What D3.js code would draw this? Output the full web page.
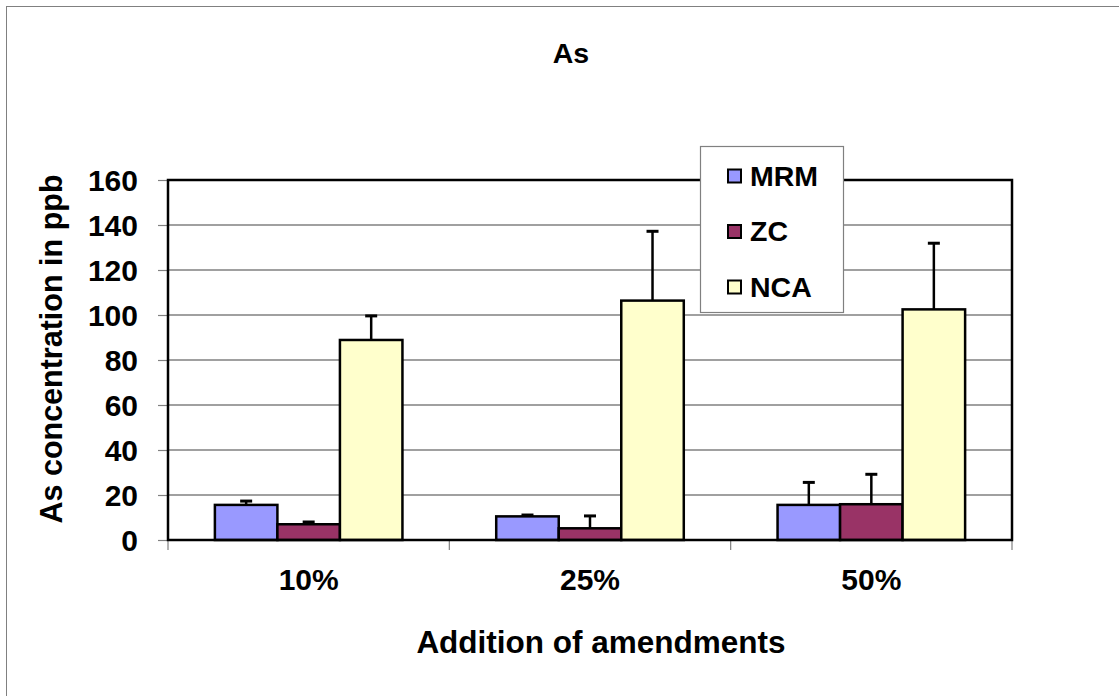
<!DOCTYPE html>
<html>
<head>
<meta charset="utf-8">
<script src="https://cdn.jsdelivr.net/npm/d3@7"></script>
<style>
  body { margin: 0; background: #fff; }
  svg { display: block; font-family: Arial, "Liberation Sans", sans-serif; font-weight: bold; }
</style>
</head>
<body>
<div id="chart"></div>
<script>
const categories = ['10%', '25%', '50%'];
const seriesNames = ['MRM', 'ZC', 'NCA'];
const mrm = [15.6, 10.5, 15.6];
const mrmErr = [1.7, 0.6, 10.0];
const zc = [7.0, 5.2, 15.9];
const zcErr = [1.0, 5.5, 13.3];
const nca = [88.9, 106.4, 102.5];
const ncaErr = [10.7, 30.8, 29.4];
const yTicks = [0, 20, 40, 60, 80, 100, 120, 140, 160];
const colors = ['#9999FF', '#993366', '#FFFFCC'];

const width = 1119, height = 696;
const plotLeft = 168, plotRight = 1012, plotTop = 180, plotBottom = 540;

const svg = d3.select('#chart').append('svg')
    .attr('width', width)
    .attr('height', height);

// outer chart frame
svg.append('rect')
    .attr('x', 6.5).attr('y', 6.5)
    .attr('width', 1300).attr('height', 900)
    .attr('fill', 'none').attr('stroke', '#808080');

const x0 = d3.scaleBand().domain(categories).range([plotLeft, plotRight]).padding(0);
const bw = x0.bandwidth();
const x1 = d3.scaleBand().domain(seriesNames).range([bw / 6, bw * 5 / 6]).padding(0);
const y = d3.scaleLinear().domain([0, 160]).range([plotBottom, plotTop]);

// gridlines
svg.append('g').selectAll('line')
    .data(yTicks.filter(d => d > 0 && d < 160))
    .enter().append('line')
    .attr('x1', plotLeft).attr('x2', plotRight)
    .attr('y1', d => y(d)).attr('y2', d => y(d))
    .attr('stroke', '#808080').attr('stroke-width', 1.5);

// y axis
const yAxis = svg.append('g')
    .attr('transform', `translate(${plotLeft},0)`)
    .call(d3.axisLeft(y).tickValues(yTicks).tickSize(10).tickPadding(20));
yAxis.select('.domain').remove();
yAxis.selectAll('.tick line').attr('stroke', '#808080').attr('stroke-width', 1.2);
yAxis.selectAll('.tick text')
    .attr('font-size', 30).attr('font-weight', 'bold')
    .attr('font-family', 'Arial, "Liberation Sans", sans-serif')
    .attr('fill', '#000').attr('dy', '0.36em');

// x axis ticks at category boundaries
const xBounds = categories.map(c => x0(c)).concat([plotRight]);
svg.append('g').selectAll('line')
    .data(xBounds)
    .enter().append('line')
    .attr('x1', d => d).attr('x2', d => d)
    .attr('y1', plotBottom).attr('y2', plotBottom + 10)
    .attr('stroke', '#808080').attr('stroke-width', 1.2);

svg.append('g').selectAll('text')
    .data(categories)
    .enter().append('text')
    .attr('x', d => x0(d) + bw / 2)
    .attr('y', 590)
    .attr('text-anchor', 'middle')
    .attr('font-size', 30)
    .text(d => d);

// bars
const values = [mrm, zc, nca];
const errors = [mrmErr, zcErr, ncaErr];
const barData = [];
categories.forEach((c, i) => {
    seriesNames.forEach((s, j) => {
        barData.push({ cat: c, series: s, value: values[j][i], err: errors[j][i], color: colors[j] });
    });
});

// error bars drawn behind bars
const eb = svg.append('g').selectAll('g')
    .data(barData)
    .enter().append('g');
eb.append('line')
    .attr('x1', d => x0(d.cat) + x1(d.series) + x1.bandwidth() / 2)
    .attr('x2', d => x0(d.cat) + x1(d.series) + x1.bandwidth() / 2)
    .attr('y1', d => y(d.value))
    .attr('y2', d => y(d.value + d.err))
    .attr('stroke', '#000').attr('stroke-width', 2.5);
eb.append('line')
    .attr('x1', d => x0(d.cat) + x1(d.series) + x1.bandwidth() / 2 - 6)
    .attr('x2', d => x0(d.cat) + x1(d.series) + x1.bandwidth() / 2 + 6)
    .attr('y1', d => y(d.value + d.err))
    .attr('y2', d => y(d.value + d.err))
    .attr('stroke', '#000').attr('stroke-width', 3);

svg.append('g').selectAll('rect')
    .data(barData)
    .enter().append('rect')
    .attr('x', d => x0(d.cat) + x1(d.series))
    .attr('y', d => y(d.value))
    .attr('width', x1.bandwidth())
    .attr('height', d => y(0) - y(d.value))
    .attr('fill', d => d.color)
    .attr('stroke', '#000').attr('stroke-width', 2.5);

// plot area border
svg.append('rect')
    .attr('x', plotLeft).attr('y', plotTop)
    .attr('width', plotRight - plotLeft).attr('height', plotBottom - plotTop)
    .attr('fill', 'none').attr('stroke', '#000').attr('stroke-width', 2.5);

// legend
const lg = svg.append('g');
lg.append('rect')
    .attr('x', 700.5).attr('y', 146.5)
    .attr('width', 143).attr('height', 166)
    .attr('fill', '#fff').attr('stroke', '#808080').attr('stroke-width', 1.2);
const items = lg.selectAll('g.item')
    .data(seriesNames)
    .enter().append('g')
    .attr('class', 'item')
    .attr('transform', (d, i) => `translate(0,${176 + i * 55.5})`);
items.append('rect')
    .attr('x', 728).attr('y', -6.5)
    .attr('width', 13).attr('height', 13)
    .attr('fill', (d, i) => colors[i])
    .attr('stroke', '#000').attr('stroke-width', 2);
items.append('text')
    .attr('x', 750).attr('y', 9.5)
    .attr('font-size', 28.5)
    .text(d => d);

// titles
svg.append('text')
    .attr('x', 571).attr('y', 63)
    .attr('text-anchor', 'middle')
    .attr('font-size', 28.5)
    .text('As');

svg.append('text')
    .attr('x', 601).attr('y', 653)
    .attr('text-anchor', 'middle')
    .attr('font-size', 31.5)
    .text('Addition of amendments');

svg.append('text')
    .attr('transform', 'translate(62,349) rotate(-90)')
    .attr('text-anchor', 'middle')
    .attr('font-size', 30.5)
    .text('As concentration in ppb');
</script>
</body>
</html>
